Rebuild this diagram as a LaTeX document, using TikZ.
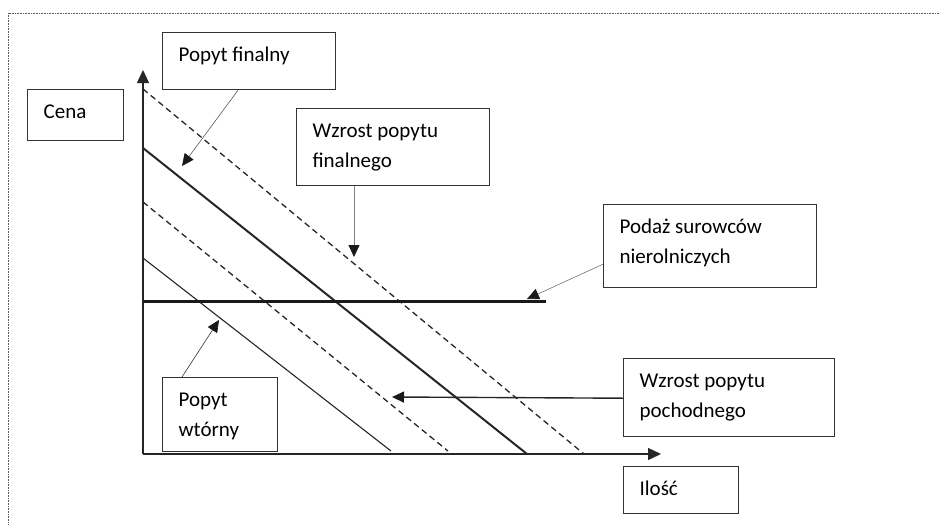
\documentclass[tikz,border=0pt]{standalone}
\usepackage{fontspec}
\setmainfont{Carlito}
\usetikzlibrary{arrows.meta,calc}

% text box: width, height, lines (first baseline 29pt below the top edge)
\newcommand\lbltext[3]{\parbox[t][#2][t]{#1}{\raggedright\leftskip=16pt\rule{0pt}{29pt}#3}}

\begin{document}
\begin{tikzpicture}[x=1pt,y=-1pt,
  every node/.style={font=\fontsize{21}{29.5}\selectfont, text=black},
  lbl/.style={draw=black!80, line width=1.2pt, inner sep=0pt, anchor=north west},
  axis/.style={line width=1.3pt, black!85, -{Triangle[length=13pt,width=12pt]}},
  curve/.style={line width=1.3pt, black!85},
  dashcurve/.style={curve, dash pattern=on 6pt off 4pt},
  pointer/.style={line width=0.7pt, -{Triangle[length=12pt,width=11pt,color=black!90]}},
]
\useasboundingbox (0,0) rectangle (939,525);

% frame (only top and left edges show)
\draw[black!65, line width=0.8pt, dash pattern=on 0.8pt off 0.8pt] (939,13) -- (8,13) -- (8,525);

% labels
\node[lbl] (cena) at (27,89)   {\lbltext{96pt}{51pt}{Cena}};
\node[lbl] (pf)   at (162,32)  {\lbltext{173pt}{57pt}{Popyt finalny}};
\node[lbl] (wpf)  at (296,108) {\lbltext{193pt}{77pt}{Wzrost popytu\\finalnego}};
\node[lbl] (pod)  at (603,204) {\lbltext{213pt}{83pt}{Podaż surowców\\nierolniczych}};
\node[lbl] (wpp)  at (623,358) {\lbltext{211pt}{78pt}{Wzrost popytu\\pochodnego}};
\node[lbl] (il)   at (623,466) {\lbltext{115pt}{47pt}{Ilość}};
\node[lbl] (pw)   at (162,377) {\lbltext{115pt}{74pt}{Popyt\\wtórny}};

% axes
\coordinate (O) at (143,454);
\coordinate (ytop) at (143,70);
\coordinate (xend) at (661,454);
\draw[axis] (O) -- (ytop);
\draw[axis] (O) -- (xend);

% demand curves
\coordinate (d1a) at (143,89);  \coordinate (d1b) at (584,454);
\coordinate (d2a) at (143,148); \coordinate (d2b) at (527,454);
\coordinate (d3a) at (143,202); \coordinate (d3b) at (448,451);
\coordinate (d4a) at (143,258); \coordinate (d4b) at (391,451);
\draw[dashcurve] (d1a) -- (d1b);
\draw[curve, line width=2pt] (d2a) -- (d2b);
\draw[dashcurve] (d3a) -- (d3b);
\draw[curve, line width=1.1pt] (d4a) -- (d4b);

% supply of non-agricultural raw materials
\coordinate (sa) at (143,301); \coordinate (sb) at (546,301);
\draw[line width=3pt, black!90] (sa) -- (sb);

% pointers from the labels
\coordinate (tpf)  at (182,166);
\coordinate (twpf) at (354,257);
\coordinate (tpod) at (527,299);
\coordinate (tpw)  at (219,320);
\coordinate (twpp) at (392,397);
\draw[pointer, draw=black!65, line width=0.6pt] ([xshift=76pt]pf.south west) -- (tpf);
\draw[pointer, draw=black!50, line width=0.8pt] ([xshift=58pt]wpf.south west) -- (twpf);
\draw[pointer, draw=black!55, line width=0.6pt] ([yshift=24pt]pod.south west) -- (tpod);
\draw[pointer, draw=black!80, line width=0.6pt] ([xshift=20pt]pw.north west) -- (tpw);
\draw[pointer, draw=black!85, line width=1.4pt] ([yshift=39pt]wpp.south west) -- (twpp);
\end{tikzpicture}
\end{document}
